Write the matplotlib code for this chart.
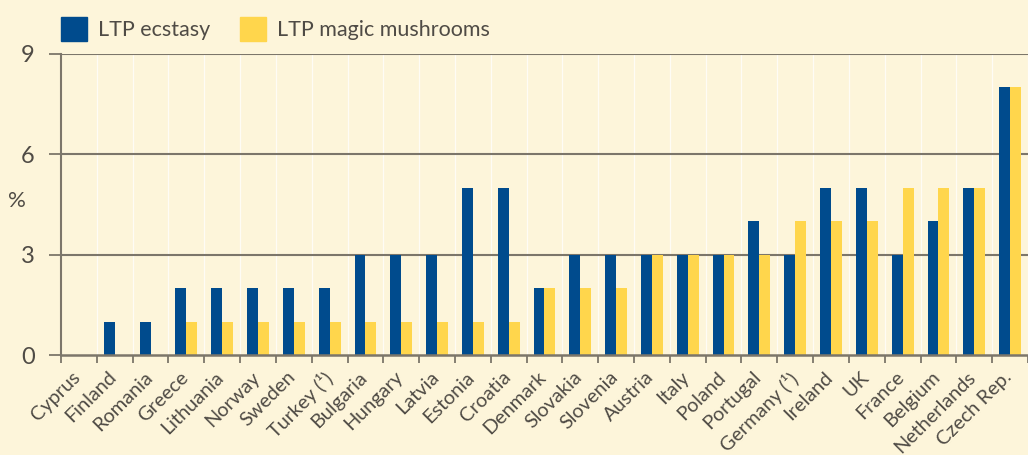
import matplotlib
matplotlib.use("Agg")
import matplotlib.pyplot as plt
import numpy as np
from matplotlib.patches import Patch

countries = ["Cyprus", "Finland", "Romania", "Greece", "Lithuania", "Norway", "Sweden",
             "Turkey (¹)", "Bulgaria", "Hungary", "Latvia", "Estonia", "Croatia", "Denmark",
             "Slovakia", "Slovenia", "Austria", "Italy", "Poland", "Portugal", "Germany (¹)",
             "Ireland", "UK", "France", "Belgium", "Netherlands", "Czech Rep."]
ecstasy = [0, 1, 1, 2, 2, 2, 2, 2, 3, 3, 3, 5, 5, 2, 3, 3, 3, 3, 3, 4, 3, 5, 5, 3, 4, 5, 8]
mushrooms = [0, 0, 0, 1, 1, 1, 1, 1, 1, 1, 1, 1, 1, 2, 2, 2, 3, 3, 3, 3, 4, 4, 4, 5, 5, 5, 8]
yticks = [0, 3, 6, 9]

BG = "#FDF5DA"
BLUE = "#004B8D"
YELLOW = "#FFD64C"
GREY = "#4f4b45"
LINE = "#7c766a"

plt.rcParams['font.family'] = ['Lato', 'DejaVu Sans']

fig = plt.figure(figsize=(10.28, 4.55), dpi=100, facecolor=BG)
W, H = 1028, 455
ax = fig.add_axes([61 / W, 100 / H, (W - 61) / W, (355 - 54) / H])
ax.set_facecolor(BG)

n = len(countries)
x = np.arange(n)
bw = 0.305
ax.bar(x - bw / 2, ecstasy, width=bw, color=BLUE, zorder=3)
ax.bar(x + bw / 2, mushrooms, width=bw, color=YELLOW, zorder=3)

cw = 36.1
ax.set_xlim(-0.5, -0.5 + (W - 61) / cw)
ax.set_ylim(0, 9)

# vertical white separators
for b in np.arange(n) + 0.5:
    ax.axvline(b, color="white", lw=0.9, zorder=1, alpha=0.75)
for yv in yticks[1:]:
    ax.axhline(yv, color=LINE, lw=1.5, zorder=2)

ax.set_yticks(yticks)
ax.set_yticklabels([str(v) for v in yticks], fontsize=17, color=GREY)
ax.tick_params(axis='y', length=9, width=1.3, color=LINE, pad=10)

ax.set_xticks(np.arange(n + 1) - 0.5, minor=False)
ax.set_xticklabels([])
ax.tick_params(axis='x', length=6, width=1.3, color=LINE, direction='out')
for i, c in enumerate(countries):
    ax.text(i - 0.2, -0.4, c, rotation=45, ha='right', va='top', rotation_mode='anchor',
            fontsize=14.3, color=GREY, transform=ax.transData, clip_on=False)

for s in ['top', 'right']:
    ax.spines[s].set_visible(False)
ax.spines['left'].set_color(LINE)
ax.spines['left'].set_linewidth(1.5)
ax.spines['bottom'].set_color(LINE)
ax.spines['bottom'].set_linewidth(1.8)
ax.spines['bottom'].set_zorder(4)

fig.text(17 / W, 1 - 201 / H, "%", fontsize=16, color=GREY, ha='center', va='center')

handles = [Patch(color=BLUE, label="LTP ecstasy"), Patch(color=YELLOW, label="LTP magic mushrooms")]
fig.legend(handles=handles, loc='center left', bbox_to_anchor=(42 / W, 1 - 29 / H), ncol=2,
           frameon=False, labelcolor=GREY, handlelength=1.2, handleheight=1.3,
           handletextpad=0.5, columnspacing=1.4, prop={'size': 15.5})

fig.savefig("out.png", dpi=100, facecolor=BG)
